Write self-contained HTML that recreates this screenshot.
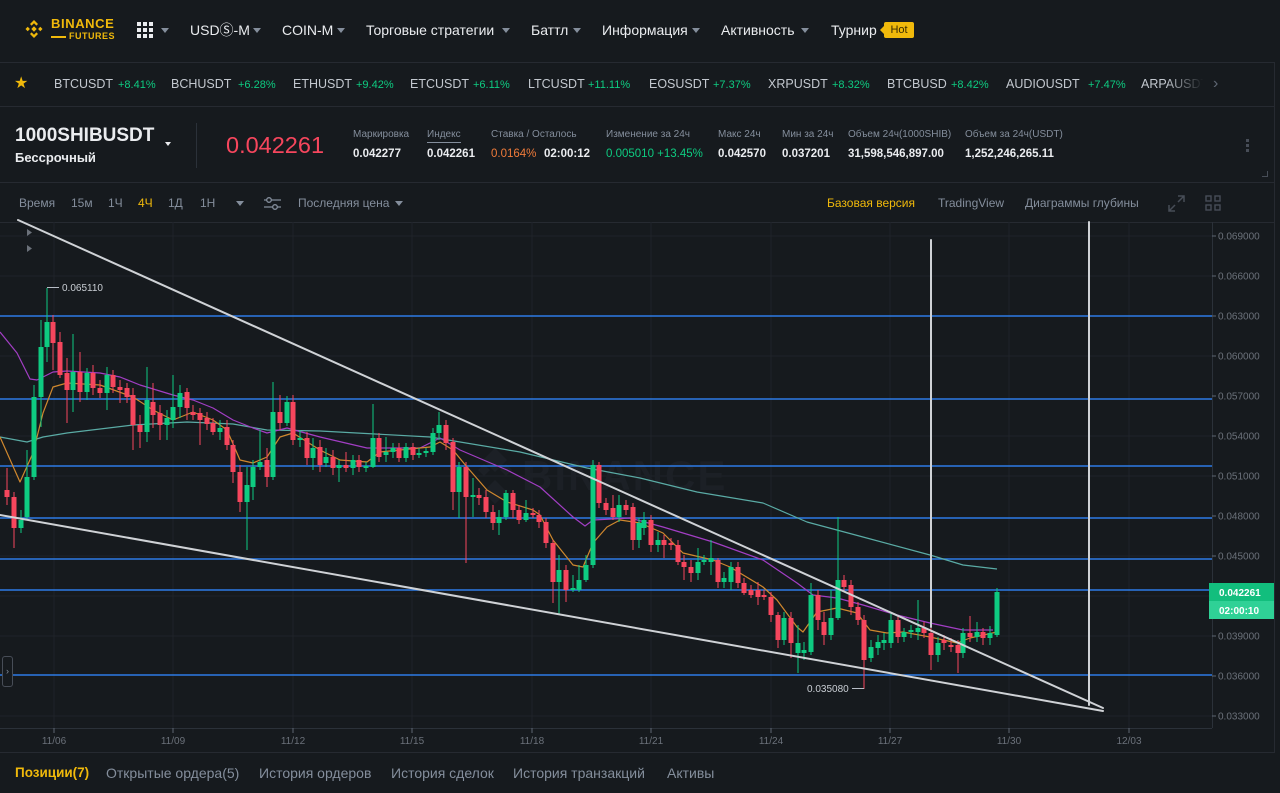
<!DOCTYPE html>
<html><head><meta charset="utf-8"><style>
*{margin:0;padding:0;box-sizing:border-box}
html,body{width:1280px;height:793px;overflow:hidden;background:#161a1e;font-family:"Liberation Sans","DejaVu Sans",sans-serif}
#root{position:relative;width:1280px;height:793px;background:#161a1e;overflow:hidden}
.a{position:absolute;white-space:nowrap}
.hl{position:absolute;left:0;width:1275px;height:1px;background:#262a31}
.nav{top:20px;height:20px;line-height:20px;font-size:14px;color:#eaecef}
.tri{position:absolute;width:0;height:0;border-left:4px solid transparent;border-right:4px solid transparent;border-top:5px solid #848e9c}
.tk{top:76px;height:16px;line-height:16px;font-size:12.5px;color:#c3c8cf}
.tp{top:77px;height:16px;line-height:16px;font-size:11px;color:#0ecb81}
.lb{top:129px;height:12px;line-height:12px;font-size:10px;color:#848e9c}
.vl{top:147px;height:14px;line-height:14px;font-size:11.5px;font-weight:bold;color:#eaecef}
.tb{top:195px;height:16px;line-height:16px;font-size:12px;color:#848e9c}
.tab{top:764px;height:18px;line-height:18px;font-size:14px;color:#848e9c}
</style></head><body><div id="root">

<!-- separators -->
<div class="hl" style="top:62px"></div>
<div class="hl" style="top:106px"></div>
<div class="hl" style="top:182px"></div>
<div class="hl" style="top:222px"></div>
<div class="hl" style="top:752px"></div>
<div class="a" style="left:1274px;top:62px;width:1px;height:691px;background:#262a31"></div>

<!-- NAV -->
<svg class="a" style="left:22px;top:17px" width="24" height="24" viewBox="0 0 24 24" fill="#f0b90b">
<path d="M12 3l4 4-1.6 1.6L12 6.2 9.6 8.6 8 7z"/><path d="M12 21l4-4-1.6-1.6L12 17.8 9.6 15.4 8 17z"/>
<path d="M12 9.3l2.7 2.7-2.7 2.7-2.7-2.7z"/><path d="M3.5 12l2.2-2.2 2.2 2.2-2.2 2.2z"/><path d="M16.1 12l2.2-2.2 2.2 2.2-2.2 2.2z"/></svg>
<div class="a" style="left:51px;top:16px;font-size:13px;font-weight:bold;color:#f0b90b;letter-spacing:0.6px;line-height:15px">BINANCE</div>
<div class="a" style="left:51px;top:36px;width:15px;height:2px;background:#f0b90b"></div>
<div class="a" style="left:69px;top:31px;font-size:9px;font-weight:bold;color:#f0b90b;letter-spacing:0.5px;line-height:11px">FUTURES</div>
<svg class="a" style="left:137px;top:22px" width="16" height="16" fill="#eaecef">
<rect x="0" y="0" width="4" height="4"/><rect x="6" y="0" width="4" height="4"/><rect x="12" y="0" width="4" height="4"/>
<rect x="0" y="6" width="4" height="4"/><rect x="6" y="6" width="4" height="4"/><rect x="12" y="6" width="4" height="4"/>
<rect x="0" y="12" width="4" height="4"/><rect x="6" y="12" width="4" height="4"/><rect x="12" y="12" width="4" height="4"/></svg>
<div class="tri" style="left:161px;top:28px"></div>
<div class="a nav" style="left:190px">USDⓈ-M</div><div class="tri" style="left:253px;top:28px"></div>
<div class="a nav" style="left:282px">COIN-M</div><div class="tri" style="left:337px;top:28px"></div>
<div class="a nav" style="left:366px">Торговые стратегии</div><div class="tri" style="left:502px;top:28px"></div>
<div class="a nav" style="left:531px">Баттл</div><div class="tri" style="left:573px;top:28px"></div>
<div class="a nav" style="left:602px">Информация</div><div class="tri" style="left:692px;top:28px"></div>
<div class="a nav" style="left:721px">Активность</div><div class="tri" style="left:801px;top:28px"></div>
<div class="a nav" style="left:831px">Турнир</div>
<div class="a" style="left:880px;top:26px;width:0;height:0;border-top:4px solid transparent;border-bottom:4px solid transparent;border-right:4px solid #f0b90b"></div>
<div class="a" style="left:884px;top:22px;width:30px;height:16px;background:#f0b90b;border-radius:2px;font-size:11px;line-height:16px;text-align:center;color:#3a2c00">Hot</div>

<!-- TICKER -->
<div class="a" style="left:14px;top:75px;font-size:16px;line-height:18px;color:#f0b90b">★</div>
<div class="a tk" style="left:54px">BTCUSDT</div><div class="a tp" style="left:118px">+8.41%</div>
<div class="a tk" style="left:171px">BCHUSDT</div><div class="a tp" style="left:238px">+6.28%</div>
<div class="a tk" style="left:293px">ETHUSDT</div><div class="a tp" style="left:356px">+9.42%</div>
<div class="a tk" style="left:410px">ETCUSDT</div><div class="a tp" style="left:473px">+6.11%</div>
<div class="a tk" style="left:528px">LTCUSDT</div><div class="a tp" style="left:588px">+11.11%</div>
<div class="a tk" style="left:649px">EOSUSDT</div><div class="a tp" style="left:713px">+7.37%</div>
<div class="a tk" style="left:768px">XRPUSDT</div><div class="a tp" style="left:832px">+8.32%</div>
<div class="a tk" style="left:887px">BTCBUSD</div><div class="a tp" style="left:951px">+8.42%</div>
<div class="a tk" style="left:1006px">AUDIOUSDT</div><div class="a tp" style="left:1088px">+7.47%</div>
<div class="a tk" style="left:1141px">ARPAUSDT</div>
<div class="a" style="left:1165px;top:70px;width:45px;height:28px;background:linear-gradient(to right,rgba(22,26,30,0),#161a1e 85%)"></div>
<div class="a" style="left:1213px;top:74px;font-size:16px;line-height:20px;color:#5e6673">&#8250;</div>

<!-- HEADER -->
<div class="a" style="left:15px;top:125px;font-size:19px;font-weight:bold;color:#eaecef;line-height:21px">1000SHIBUSDT</div>
<div class="a" style="left:15px;top:149px;font-size:13px;font-weight:bold;color:#eaecef;line-height:18px">Бессрочный</div>
<div class="a" style="left:165px;top:142px;width:0;height:0;border-left:3.5px solid transparent;border-right:3.5px solid transparent;border-top:4px solid #eaecef"></div>
<div class="a" style="left:196px;top:123px;width:1px;height:45px;background:#2b3139"></div>
<div class="a" style="left:226px;top:131px;font-size:23.5px;color:#f6465d;line-height:28px">0.042261</div>

<div class="a lb" style="left:353px">Маркировка</div><div class="a vl" style="left:353px">0.042277</div>
<div class="a lb" style="left:427px">Индекс</div><div class="a" style="left:427px;top:142px;width:34px;height:1px;background:#848e9c"></div><div class="a vl" style="left:427px">0.042261</div>
<div class="a lb" style="left:491px">Ставка / Осталось</div><div class="a vl" style="left:491px;color:#f07b3a;font-weight:normal">0.0164%</div><div class="a vl" style="left:544px">02:00:12</div>
<div class="a lb" style="left:606px">Изменение за 24ч</div><div class="a vl" style="left:606px;color:#0ecb81;font-weight:normal">0.005010 +13.45%</div>
<div class="a lb" style="left:718px">Макс 24ч</div><div class="a vl" style="left:718px">0.042570</div>
<div class="a lb" style="left:782px">Мин за 24ч</div><div class="a vl" style="left:782px">0.037201</div>
<div class="a lb" style="left:848px">Объем 24ч(1000SHIB)</div><div class="a vl" style="left:848px">31,598,546,897.00</div>
<div class="a lb" style="left:965px">Объем за 24ч(USDT)</div><div class="a vl" style="left:965px">1,252,246,265.11</div>
<div class="a" style="left:1246px;top:139px;width:3px;height:3px;background:#474d57"></div>
<div class="a" style="left:1246px;top:144px;width:3px;height:3px;background:#474d57"></div>
<div class="a" style="left:1246px;top:149px;width:3px;height:3px;background:#474d57"></div>
<div class="a" style="left:1262px;top:171px;width:6px;height:6px;border-right:1px solid #474d57;border-bottom:1px solid #474d57"></div>

<!-- TOOLBAR -->
<div class="a tb" style="left:19px">Время</div>
<div class="a tb" style="left:71px">15м</div>
<div class="a tb" style="left:108px">1Ч</div>
<div class="a tb" style="left:138px;color:#f0b90b">4Ч</div>
<div class="a tb" style="left:168px">1Д</div>
<div class="a tb" style="left:200px">1Н</div>
<div class="tri" style="left:236px;top:201px"></div>
<svg class="a" style="left:263px;top:195px" width="19" height="17" stroke="#848e9c" fill="none" stroke-width="1.3">
<path d="M1 5H18M1 12H18"/><circle cx="6" cy="5" r="2.3" fill="#161a1e"/><circle cx="12" cy="12" r="2.3" fill="#161a1e"/></svg>
<div class="a tb" style="left:298px">Последняя цена</div><div class="tri" style="left:395px;top:201px"></div>
<div class="a tb" style="left:827px;color:#f0b90b">Базовая версия</div>
<div class="a tb" style="left:938px">TradingView</div>
<div class="a tb" style="left:1025px">Диаграммы глубины</div>
<svg class="a" style="left:1168px;top:195px" width="17" height="17" stroke="#474d57" fill="none" stroke-width="1.5">
<path d="M10 1H16V7M16 1L10 7M7 16H1V10M1 16L7 10"/></svg>
<svg class="a" style="left:1205px;top:195px" width="16" height="16" stroke="#474d57" fill="none" stroke-width="1.4">
<rect x="1" y="1" width="5" height="5"/><rect x="10" y="1" width="5" height="5"/><rect x="1" y="10" width="5" height="5"/><rect x="10" y="10" width="5" height="5"/></svg>

<!-- CHART -->
<svg class="a" style="left:0;top:0" width="1280" height="793" viewBox="0 0 1280 793">
<g stroke="#1f2329" stroke-width="1">
<path d="M54 222V728M173 222V728M293 222V728M412 222V728M532 222V728M651 222V728M771 222V728M890 222V728M1009 222V728M1129 222V728"/>
<path d="M0 236H1212M0 276H1212M0 356H1212M0 436H1212M0 476H1212M0 556H1212M0 596H1212M0 636H1212M0 716H1212"/>
</g>
<!-- watermark -->
<g fill="#1c2026"><path d="M495 448l12 12-12 12-12-12zM478 470l6-6 6 6-6 6zM500 470l6-6 6 6-6 6zM495 480l12 12-12 12-12-12z"/>
<text x="522" y="490" font-family="Liberation Sans,sans-serif" font-size="42" font-weight="bold" letter-spacing="2">BINANCE</text></g>
<!-- blue levels -->
<g stroke="#2d7be5" stroke-width="1.4">
<path d="M0 316H1212M0 399H1212M0 466H1212M0 518H1212M0 559H1212M0 590H1212M0 675H1212"/></g>
<!-- axes -->
<g stroke="#2b3139" stroke-width="1"><path d="M1212.5 222V728M0 728.5H1212"/></g>
<g stroke="#5e6673" stroke-width="1">
<path d="M54 728V733M173 728V733M293 728V733M412 728V733M532 728V733M651 728V733M771 728V733M890 728V733M1009 728V733M1129 728V733"/>
<path d="M1212 236H1216M1212 276H1216M1212 316H1216M1212 356H1216M1212 396H1216M1212 436H1216M1212 476H1216M1212 516H1216M1212 556H1216M1212 636H1216M1212 676H1216M1212 716H1216"/></g>
<g fill="#6b717a" font-family="Liberation Sans,sans-serif" font-size="10" text-anchor="middle">
<text x="54" y="744">11/06</text><text x="173" y="744">11/09</text><text x="293" y="744">11/12</text><text x="412" y="744">11/15</text><text x="532" y="744">11/18</text><text x="651" y="744">11/21</text><text x="771" y="744">11/24</text><text x="890" y="744">11/27</text><text x="1009" y="744">11/30</text><text x="1129" y="744">12/03</text></g>
<g fill="#6b717a" font-family="Liberation Sans,sans-serif" font-size="10">
<text x="1218" y="239.5">0.069000</text><text x="1218" y="279.5">0.066000</text><text x="1218" y="319.5">0.063000</text><text x="1218" y="359.5">0.060000</text><text x="1218" y="399.5">0.057000</text><text x="1218" y="439.5">0.054000</text><text x="1218" y="479.5">0.051000</text><text x="1218" y="519.5">0.048000</text><text x="1218" y="559.5">0.045000</text><text x="1218" y="639.5">0.039000</text><text x="1218" y="679.5">0.036000</text><text x="1218" y="719.5">0.033000</text></g>

<!-- MAs -->
<g fill="none" stroke-width="1.2" stroke-linejoin="round">
<polyline stroke="#5aaba5" points="0,437 27,442 43,437 67,433 133,425 187,422 233,424 267,430 320,431 430,437 520,452 587,468 640,478 697,492 763,503 807,522 863,537 930,555 963,565 997,569"/>
<polyline stroke="#a23ec4" points="0,332 17,353 30,379 37,380 53,372 67,371 100,373 120,377 140,385 173,395 193,400 213,408 233,420 253,428 267,433 287,428 320,437 367,448 420,448 440,438 460,450 507,470 540,487 573,517 585,526 593,520 630,518 663,527 713,542 763,560 797,583 813,595 837,598 863,605 897,615 930,623 963,630 993,630"/>
<polyline stroke="#d0882e" points="0,437 20,482 33,453 43,413 53,387 67,383 100,385 133,397 153,410 173,420 193,412 213,420 227,430 240,460 253,463 267,457 280,437 293,433 320,450 340,460 367,462 380,452 430,447 440,442 453,450 467,467 487,490 507,502 533,510 540,515 553,540 573,565 583,567 593,543 607,527 620,520 640,523 663,533 683,553 713,560 730,567 763,587 777,600 797,627 803,632 817,612 837,608 857,613 870,630 887,633 903,632 930,637 957,643 970,638 997,632"/></g>

<!-- candles red -->
<path stroke="#f6465d" stroke-width="1" fill="none" d="M7 468V505M14 492V548M53 315V370M60 332V378M67 358V423M80 352V402M93 365V395M100 380V398M113 370V393M120 380V403M127 383V403M133 388V450M140 415V448M153 383V428M160 405V440M187 388V420M193 405V420M200 408V445M207 412V430M213 418V435M227 420V450M233 440V483M240 465V512M267 448V487M280 395V430M293 395V445M307 432V465M320 440V472M333 450V475M346 452V472M359 455V472M379 433V462M399 443V462M413 443V460M446 420V450M453 438V510M466 462V563M479 488V505M486 490V518M493 505V530M513 490V518M519 505V524M533 508V518M539 510V528M546 518V548M553 540V603M566 565V602M599 462V508M606 498V515M613 495V520M626 500V515M633 503V550M651 515V552M664 535V558M671 538V550M678 540V565M684 555V580M691 560V582M718 558V588M738 562V588M744 578V595M751 585V598M758 582V605M764 590V600M771 592V622M778 612V648M791 612V658M818 590V630M824 612V645M844 575V592M851 580V615M858 602V625M864 615V689M898 615V643M924 622V638M931 628V670M944 635V650M951 638V652M958 640V673M970 616V642M983 628V645"/>
<g fill="#f6465d">
<rect x="4.5" y="490" width="5" height="7"/><rect x="11.5" y="497" width="5" height="31"/><rect x="50.5" y="322" width="5" height="21"/><rect x="57.5" y="342" width="5" height="33"/><rect x="64.5" y="373" width="5" height="17"/><rect x="77.5" y="372" width="5" height="20"/><rect x="90.5" y="373" width="5" height="15"/><rect x="97.5" y="388" width="5" height="5"/><rect x="110.5" y="375" width="5" height="12"/><rect x="117.5" y="387" width="5" height="3"/><rect x="124.5" y="388" width="5" height="9"/><rect x="130.5" y="395" width="5" height="30"/><rect x="137.5" y="425" width="5" height="7"/><rect x="150.5" y="402" width="5" height="13"/><rect x="157.5" y="413" width="5" height="12"/><rect x="184.5" y="392" width="5" height="16"/><rect x="190.5" y="412" width="5" height="3"/><rect x="197.5" y="413" width="5" height="7"/><rect x="204.5" y="418" width="5" height="6"/><rect x="210.5" y="423" width="5" height="9"/><rect x="224.5" y="427" width="5" height="18"/><rect x="230.5" y="445" width="5" height="27"/><rect x="237.5" y="472" width="5" height="30"/><rect x="264.5" y="460" width="5" height="17"/><rect x="277.5" y="412" width="5" height="11"/><rect x="290.5" y="402" width="5" height="38"/><rect x="304.5" y="438" width="5" height="20"/><rect x="317.5" y="447" width="5" height="18"/><rect x="330.5" y="457" width="5" height="11"/><rect x="343.5" y="465" width="5" height="3"/><rect x="356.5" y="460" width="5" height="7"/><rect x="376.5" y="438" width="5" height="19"/><rect x="396.5" y="448" width="5" height="10"/><rect x="410.5" y="447" width="5" height="8"/><rect x="443.5" y="425" width="5" height="18"/><rect x="450.5" y="442" width="5" height="50"/><rect x="463.5" y="467" width="5" height="30"/><rect x="476.5" y="495" width="5" height="3"/><rect x="483.5" y="497" width="5" height="15"/><rect x="490.5" y="512" width="5" height="11"/><rect x="510.5" y="493" width="5" height="17"/><rect x="516.5" y="510" width="5" height="10"/><rect x="530.5" y="513" width="5" height="2"/><rect x="536.5" y="515" width="5" height="7"/><rect x="543.5" y="522" width="5" height="21"/><rect x="550.5" y="543" width="5" height="39"/><rect x="563.5" y="570" width="5" height="20"/><rect x="596.5" y="465" width="5" height="38"/><rect x="603.5" y="503" width="5" height="7"/><rect x="610.5" y="508" width="5" height="9"/><rect x="623.5" y="505" width="5" height="5"/><rect x="630.5" y="507" width="5" height="33"/><rect x="648.5" y="520" width="5" height="25"/><rect x="661.5" y="540" width="5" height="5"/><rect x="668.5" y="543" width="5" height="2"/><rect x="675.5" y="545" width="5" height="17"/><rect x="681.5" y="562" width="5" height="5"/><rect x="688.5" y="567" width="5" height="6"/><rect x="715.5" y="560" width="5" height="22"/><rect x="735.5" y="567" width="5" height="16"/><rect x="741.5" y="583" width="5" height="10"/><rect x="748.5" y="590" width="5" height="5"/><rect x="755.5" y="590" width="5" height="7"/><rect x="761.5" y="595" width="5" height="2"/><rect x="768.5" y="597" width="5" height="18"/><rect x="775.5" y="615" width="5" height="25"/><rect x="788.5" y="618" width="5" height="25"/><rect x="815.5" y="595" width="5" height="25"/><rect x="821.5" y="622" width="5" height="13"/><rect x="841.5" y="580" width="5" height="7"/><rect x="848.5" y="585" width="5" height="22"/><rect x="855.5" y="607" width="5" height="13"/><rect x="861.5" y="620" width="5" height="40"/><rect x="895.5" y="620" width="5" height="17"/><rect x="921.5" y="628" width="5" height="5"/><rect x="928.5" y="633" width="5" height="22"/><rect x="941.5" y="640" width="5" height="3"/><rect x="948.5" y="645" width="5" height="2"/><rect x="955.5" y="645" width="5" height="8"/><rect x="967.5" y="633" width="5" height="4"/><rect x="980.5" y="632" width="5" height="6"/>
</g>
<!-- candles green -->
<path stroke="#0ecb81" stroke-width="1" fill="none" d="M21 510V533M27 450V520M34 385V480M41 320V427M47 288V362M73 334V412M87 368V400M107 367V410M147 367V442M167 410V440M173 375V428M180 385V418M220 420V440M247 467V550M253 460V500M260 430V470M273 382V480M287 396V426M300 430V447M313 438V470M326 448V467M339 460V482M353 455V475M366 462V472M373 404V468M386 437V462M393 443V458M406 443V462M419 448V458M426 448V457M433 428V455M439 412V440M459 462V518M473 478V517M499 510V535M506 490V520M526 500V522M559 555V615M573 575V592M579 565V592M586 555V582M593 460V568M619 495V522M639 518V548M644 512V535M658 532V552M698 548V580M704 555V565M711 540V575M724 572V588M731 562V590M784 612V645M798 625V673M804 642V660M811 583V655M831 590V640M838 517V620M871 640V662M878 635V655M884 633V650M891 612V648M904 628V642M911 625V638M918 600V640M938 637V662M963 628V658M977 622V642M990 626V645M997 588V637"/>
<g fill="#0ecb81">
<rect x="18.5" y="520" width="5" height="8"/><rect x="24.5" y="477" width="5" height="40"/><rect x="31.5" y="397" width="5" height="80"/><rect x="38.5" y="347" width="5" height="50"/><rect x="44.5" y="322" width="5" height="25"/><rect x="70.5" y="372" width="5" height="18"/><rect x="84.5" y="373" width="5" height="19"/><rect x="104.5" y="375" width="5" height="18"/><rect x="144.5" y="400" width="5" height="32"/><rect x="164.5" y="418" width="5" height="7"/><rect x="170.5" y="407" width="5" height="13"/><rect x="177.5" y="393" width="5" height="14"/><rect x="217.5" y="428" width="5" height="4"/><rect x="244.5" y="485" width="5" height="17"/><rect x="250.5" y="467" width="5" height="20"/><rect x="257.5" y="462" width="5" height="5"/><rect x="270.5" y="412" width="5" height="65"/><rect x="284.5" y="402" width="5" height="21"/><rect x="297.5" y="438" width="5" height="2"/><rect x="310.5" y="448" width="5" height="10"/><rect x="323.5" y="457" width="5" height="6"/><rect x="336.5" y="465" width="5" height="3"/><rect x="350.5" y="460" width="5" height="8"/><rect x="363.5" y="466" width="5" height="2"/><rect x="370.5" y="438" width="5" height="29"/><rect x="383.5" y="452" width="5" height="3"/><rect x="390.5" y="448" width="5" height="4"/><rect x="403.5" y="447" width="5" height="11"/><rect x="416.5" y="453" width="5" height="2"/><rect x="423.5" y="451" width="5" height="2"/><rect x="430.5" y="433" width="5" height="19"/><rect x="436.5" y="425" width="5" height="8"/><rect x="456.5" y="467" width="5" height="25"/><rect x="470.5" y="495" width="5" height="2"/><rect x="496.5" y="517" width="5" height="6"/><rect x="503.5" y="493" width="5" height="24"/><rect x="523.5" y="513" width="5" height="7"/><rect x="556.5" y="570" width="5" height="12"/><rect x="570.5" y="588" width="5" height="2"/><rect x="576.5" y="580" width="5" height="10"/><rect x="583.5" y="565" width="5" height="15"/><rect x="590.5" y="465" width="5" height="100"/><rect x="616.5" y="505" width="5" height="12"/><rect x="636.5" y="523" width="5" height="17"/><rect x="641.5" y="520" width="5" height="8"/><rect x="655.5" y="540" width="5" height="5"/><rect x="695.5" y="562" width="5" height="11"/><rect x="701.5" y="560" width="5" height="2"/><rect x="708.5" y="558" width="5" height="4"/><rect x="721.5" y="578" width="5" height="4"/><rect x="728.5" y="567" width="5" height="15"/><rect x="781.5" y="618" width="5" height="22"/><rect x="795.5" y="643" width="5" height="10"/><rect x="801.5" y="650" width="5" height="3"/><rect x="808.5" y="595" width="5" height="57"/><rect x="828.5" y="618" width="5" height="17"/><rect x="835.5" y="580" width="5" height="38"/><rect x="868.5" y="647" width="5" height="11"/><rect x="875.5" y="642" width="5" height="6"/><rect x="881.5" y="640" width="5" height="3"/><rect x="888.5" y="620" width="5" height="23"/><rect x="901.5" y="632" width="5" height="5"/><rect x="908.5" y="630" width="5" height="2"/><rect x="915.5" y="628" width="5" height="4"/><rect x="935.5" y="643" width="5" height="12"/><rect x="960.5" y="633" width="5" height="20"/><rect x="974.5" y="632" width="5" height="5"/><rect x="987.5" y="633" width="5" height="5"/><rect x="994.5" y="592" width="5" height="43"/>
</g>

<!-- trend lines -->
<g stroke="#cfd2d6" stroke-width="2" fill="none" stroke-linecap="round">
<path d="M18 220L1103 708"/><path d="M0 515L1103 711"/>
<path d="M931 240V627"/><path d="M1089 222V705"/></g>

<!-- hi/lo labels -->
<g stroke="#b7bdc6" stroke-width="1" fill="none"><path d="M47 287.5H59"/><path d="M852 688.5H864"/></g>
<g fill="#c9ced4" font-family="Liberation Sans,sans-serif" font-size="10">
<text x="62" y="291">0.065110</text><text x="807" y="692">0.035080</text></g>

<!-- left arrows -->
<g fill="#6b717a"><path d="M27 229l5 3.5-5 3.5z"/><path d="M27 245l5 3.5-5 3.5z"/></g>

<!-- price tag -->
<rect x="1209" y="583" width="65" height="18" fill="#12be7d"/>
<rect x="1209" y="601" width="65" height="18" fill="#2fd196"/>
<g fill="#ffffff" font-family="Liberation Sans,sans-serif" font-size="10" font-weight="bold">
<text x="1219" y="596">0.042261</text><text x="1219" y="614">02:00:10</text></g>
</svg>

<!-- left toggle -->
<div class="a" style="left:2px;top:656px;width:11px;height:31px;border:1px solid #474d57;border-radius:3px;background:#161a1e;color:#848e9c;font-size:9px;line-height:29px;text-align:center">›</div>

<!-- TABS -->
<div class="a tab" style="left:15px;color:#f0b90b;font-weight:bold;font-size:13.5px">Позиции(7)</div>
<div class="a tab" style="left:106px">Открытые ордера(5)</div>
<div class="a tab" style="left:259px">История ордеров</div>
<div class="a tab" style="left:391px">История сделок</div>
<div class="a tab" style="left:513px">История транзакций</div>
<div class="a tab" style="left:667px">Активы</div>

</div></body></html>
